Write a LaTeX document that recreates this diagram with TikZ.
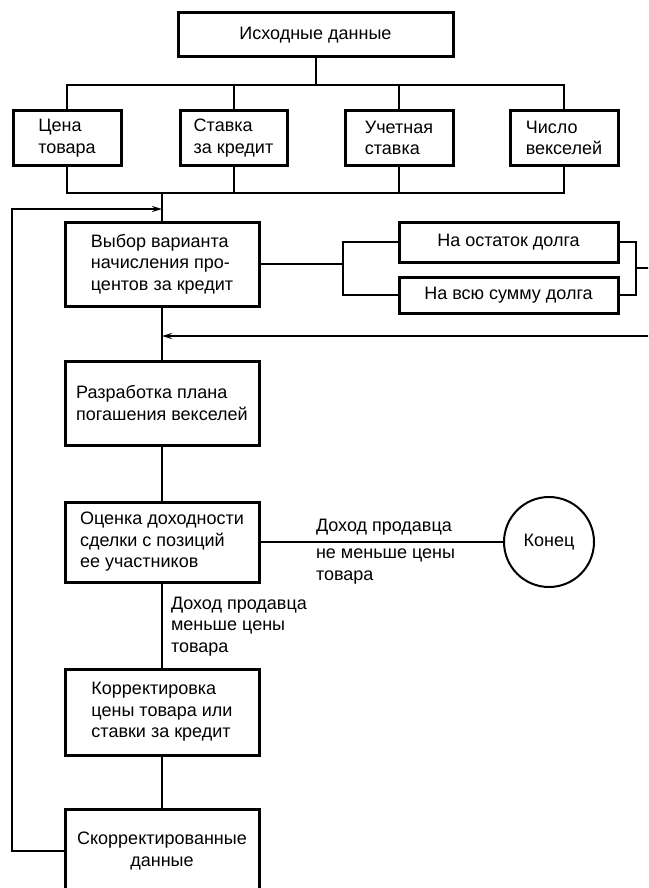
\documentclass[tikz,border=0pt]{standalone}
\usepackage{fontspec}
\setmainfont{Liberation Sans}
\usetikzlibrary{positioning,arrows.meta,calc}
\tikzset{
  chart/.style={>={Stealth[length=10pt,width=6pt]},
    x=1pt, y=-1pt,
    node distance=55pt,
    line width=2pt},
  block/.style={rectangle,draw,line width=3pt,inner sep=0pt,outer sep=0pt,align=left,
    font=\fontsize{18}{21.5}\selectfont},
  term/.style={circle,draw,line width=2pt,minimum size=90pt,inner sep=0pt,outer sep=0pt,
    font=\fontsize{18}{21.5}\selectfont},
  note/.style={inner sep=0pt,align=left,font=\fontsize{18}{21.5}\selectfont},
  link/.style={line width=2pt}
}

\begin{document}
\begin{tikzpicture}[chart]
  \useasboundingbox (0,0) rectangle (648,888);
  \clip (0,0) rectangle (648,888);
  % input data
  \node[block,minimum width=275pt,minimum height=44pt] (src) at (315.5,35) {Исходные данные};
  \node[block,minimum width=108pt,minimum height=54pt] (price) at (67,138) {Цена\\товара};
  \node[block,minimum width=107pt,minimum height=54pt] (rate) at (233.5,138) {Ставка\\за кредит};
  \node[block,minimum width=108pt,minimum height=54pt] (disc) at (399,138) {Учетная\\ставка};
  \node[block,minimum width=108pt,minimum height=54pt] (count) at (564,138) {Число\\векселей};
  % main column
  \node[block,minimum width=194pt,minimum height=84pt] (choice) at (162,264) {Выбор варианта\\начисления про-\\центов за кредит};
  \node[block,minimum width=194pt,minimum height=84pt,below=55pt of choice] (plan) {Разработка плана\\погашения векселей};
  \node[block,minimum width=194pt,minimum height=80pt,below=57pt of plan] (eval) {Оценка доходности\\сделки с позиций\\ее участников};
  \node[block,minimum width=194pt,minimum height=86pt,below=87pt of eval] (fix) {Корректировка\\цены товара или\\ставки за кредит};
  \node[block,minimum width=194pt,minimum height=84pt,below=54pt of fix,align=center] (data) {Скорректированные\\данные};
  % variants
  \node[block,minimum width=219pt,minimum height=40pt] (rest) at (508.5,242) {На остаток долга};
  \node[block,minimum width=219pt,minimum height=36pt] (whole) at (508.5,295) {На всю сумму долга};
  \node[term] (end) at (549,542) {Конец};
  % labels
  \node[note,anchor=west] (yes) at (315,527) {Доход продавца};
  \node[note,anchor=west] (yes2) at (315,566.5) {не меньше цены\\товара};
  \node[note,anchor=west] (no) at (170,626.5) {Доход продавца\\меньше цены\\товара};

  \coordinate (topbus) at (0,85);
  \coordinate (botbus) at (0,193);
  \coordinate (back) at (12,209);
  \coordinate (fork) at (343,264);
  \coordinate (join) at (636,268);
  \coordinate (edge) at (660,268);
  \coordinate (ret) at (0,336);

  \draw[link] (src) -- (src |- topbus);
  \draw[link] (price) |- (count |- topbus) -- (count);
  \draw[link] (rate) -- (rate |- topbus);
  \draw[link] (disc) -- (disc |- topbus);
  \draw[link] (price) |- (count |- botbus) -- (count);
  \draw[link] (rate) -- (rate |- botbus);
  \draw[link] (disc) -- (disc |- botbus);
  \draw[link] (choice |- botbus) -- (choice);

  \draw[link] (choice) -- (fork);
  \draw[link] (rest) -| (fork) |- (whole);
  \draw[link] (rest) -| (join) |- (whole);
  \draw[link,->] (join) -- (edge) |- (choice |- ret);

  \draw[link] (choice) -- (plan) -- (eval) -- (fix) -- (data);
  \draw[link] (eval) -- (end);
  \draw[link,->] (data) -| (back) -- (back -| choice);
\end{tikzpicture}
\end{document}
